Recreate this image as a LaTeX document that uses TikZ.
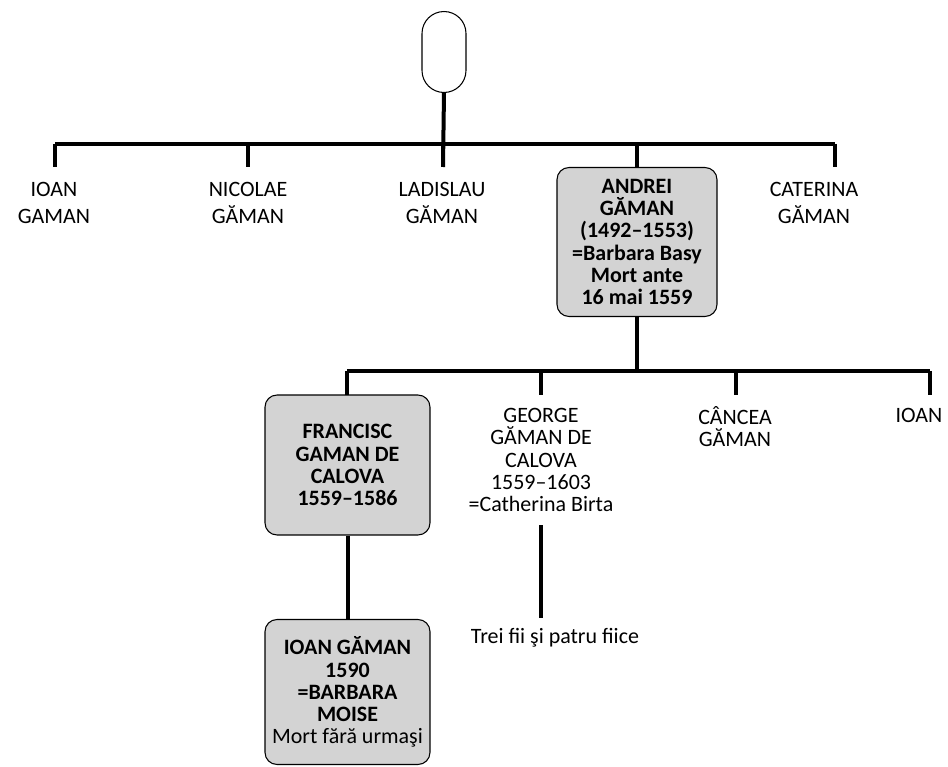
\documentclass[tikz,border=0pt]{standalone}
\usepackage{fontspec}
\setmainfont{Carlito}
\usepackage{xcolor}
\usepackage{tikz}
\usetikzlibrary{positioning}
\definecolor{boxgray}{RGB}{211,211,211}

\begin{document}
\begin{tikzpicture}[
    x=0.02cm, y=-0.02cm,
    bar/.style={line width=0.08cm},
    person/.style={draw, line width=0.6pt, rounded corners=0.24cm, fill=boxgray, align=center, inner sep=0pt, font=\fontsize{12.5}{12.6}\selectfont\bfseries},
    kin/.style={align=center, inner sep=0pt, font=\fontsize{12.5}{15.3}\selectfont},
    kinb/.style={align=center, inner sep=0pt, font=\fontsize{12.5}{12.6}\selectfont}
]
\useasboundingbox (0,0) rectangle (948,767);
% root
\node[draw, line width=0.6pt, minimum width=0.88cm, minimum height=1.62cm, rounded corners=0.44cm] (root) at (444,52) {};
% first generation
\draw[bar] (55,144) -- (835,144);
\foreach \x [count=\i] in {55,248,443,835} {
    \coordinate (u\i) at (\x,144);
    \coordinate (v\i) at (\x,167);
    \draw[bar] (u\i) -- (v\i);
}
\draw[bar] (root.south) -- (v3);
\node[kin] (ioan) at (54,203) {IOAN\\GAMAN};
\node[kin] (nicolae) at (248,203) {NICOLAE\\GĂMAN};
\node[kin] (ladislau) at (442,203) {LADISLAU\\GĂMAN};
\node[kin] (caterina) at (814,203) {CATERINA\\GĂMAN};
\node[person, minimum width=3.2cm, minimum height=2.98cm] (andrei) at (637,242) {ANDREI\\GĂMAN\\(1492–1553)\\=Barbara Basy\\Mort ante\\16 mai 1559};
\coordinate (a0) at (637,144);
\draw[bar] (a0) -- (andrei.north);
% second generation
\coordinate (a1) at (637,371);
\draw[bar] (andrei.south) -- (a1);
\draw[bar] (347,371) -- (930,371);
\foreach \x [count=\i] in {347,541,736,930} {
    \coordinate (s\i) at (\x,371);
    \coordinate (t\i) at (\x,395);
    \draw[bar] (s\i) -- (t\i);
}
\node[person, minimum width=3.3cm, minimum height=2.8cm] (francisc) at (347.5,465) {FRANCISC\\GAMAN DE\\CALOVA\\1559–1586};
\node[kinb] (george) at (541,460) {GEORGE\\GĂMAN DE\\CALOVA\\1559–1603\\=Catherina Birta};
\node[kinb] (cancea) at (735,427) {CÂNCEA\\GĂMAN};
\node[kinb] (ioanb) at (919,415) {IOAN};
% third generation
\node[person, minimum width=3.3cm, minimum height=2.9cm] (ioang) at (347.5,692) {IOAN GĂMAN\\1590\\=BARBARA\\MOISE\\{\mdseries Mort fără urmaşi}};
\draw[bar] (francisc) -- (ioang);
\coordinate (g1) at (541,525);
\coordinate (g2) at (541,618);
\draw[bar] (g1) -- (g2);
\node[kinb] (trei) at (555,638) {Trei fii şi patru fiice};
\end{tikzpicture}
\end{document}
